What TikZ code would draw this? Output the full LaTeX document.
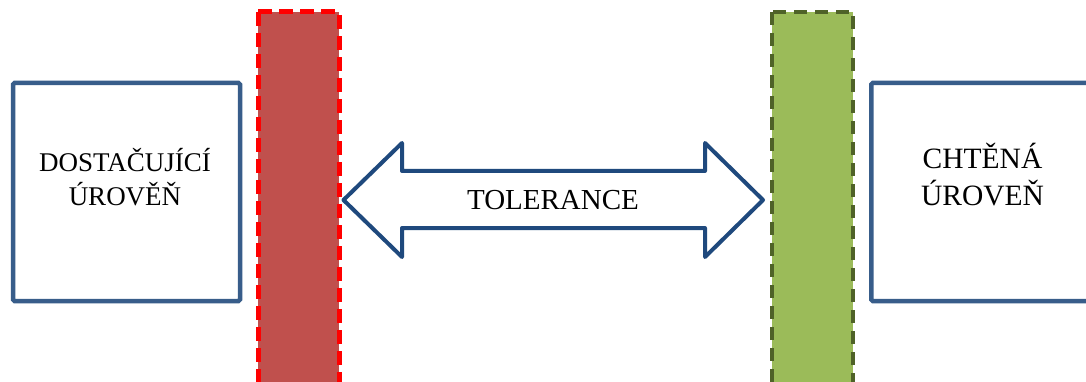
\documentclass[tikz,border=0pt]{standalone}
\usepackage{fontspec}
\setmainfont{Liberation Serif}
\definecolor{boxblue}{HTML}{385D8A}
\definecolor{arrowblue}{HTML}{1F497D}
\definecolor{redfill}{HTML}{C0504D}
\definecolor{reddash}{HTML}{FF0000}
\definecolor{greenfill}{HTML}{9BBB59}
\definecolor{greendash}{HTML}{4F6228}
\tikzset{
  levelbox/.style={draw=boxblue, line width=4.5pt, rounded corners=1.5pt, fill=white, inner sep=0pt},
  bartext/.style={align=center, inner sep=0pt},
  redbar/.style={fill=redfill, draw=reddash, line width=5pt, dash pattern=on 14pt off 7pt},
  greenbar/.style={fill=greenfill, draw=greendash, line width=4.5pt, dash pattern=on 13pt off 8pt},
  tolarrow/.style={draw=arrowblue, line width=4pt, line join=round, fill=white}
}
\begin{document}
\begin{tikzpicture}[x=1pt,y=-1pt]
\useasboundingbox (0,0) rectangle (1086,382);
\fill[white] (0,0) rectangle (1086,382);
% boxes
\node[levelbox, minimum width=227pt, minimum height=218pt] (left) at (126.5,192) {};
\node[levelbox, minimum width=240pt, minimum height=218pt, anchor=west] (right) at (869,192) {};
\node[bartext, font=\fontsize{27}{34}\selectfont] (lefttext) at (125,177) {DOSTAČUJÍCÍ\\ÚROVĚŇ};
\node[bartext, font=\fontsize{29.5}{37}\selectfont] (righttext) at (982.5,175) {CHTĚNÁ\\ÚROVEŇ};
% bars
\path[redbar] (258,12) rectangle (339,400);
\path[greenbar] (772,12) rectangle (853,400);
% double arrow
\path[tolarrow] (343.5,200) -- (402,143) -- (402,171) -- (705,171) -- (705,143) -- (763,200)
  -- (705,257) -- (705,228) -- (402,228) -- (402,257) -- cycle;
\node[bartext, font=\fontsize{29}{35}\selectfont] (tol) at (553,200) {TOLERANCE};
\end{tikzpicture}
\end{document}
